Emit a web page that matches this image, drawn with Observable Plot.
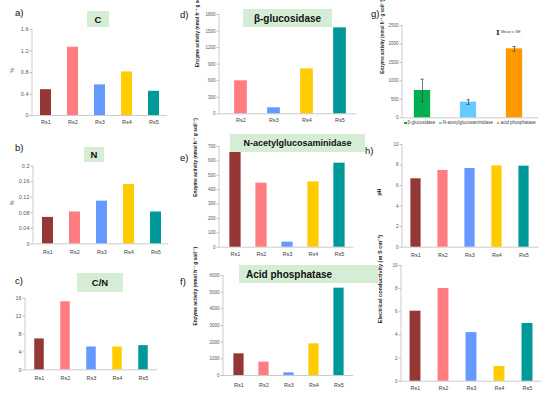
<!DOCTYPE html>
<html><head><meta charset="utf-8">
<script src="https://cdn.jsdelivr.net/npm/d3@7"></script>
<script src="https://cdn.jsdelivr.net/npm/@observablehq/plot@0.6"></script>
<style>
body{margin:0;background:#fff;}
#root{position:relative;width:550px;height:396px;background:#fff;overflow:hidden;font-family:"Liberation Sans",Arial,sans-serif;}
#root svg{position:absolute;left:0;top:0;}
.lab{position:absolute;font-size:9.5px;line-height:10px;color:#111;}
.ttl{position:absolute;background:#d5edd5;font-weight:bold;font-size:9px;color:#111;display:flex;align-items:center;justify-content:center;white-space:nowrap;}
</style></head>
<body><div id="root"></div>
<script>
// ---- data ----
const sites = ["Rs1","Rs2","Rs3","Rs4","Rs5"];
const siteColors = ["#953735","#ff7c80","#6699ff","#ffcc00","#009999"];
const carbon = [0.48,1.27,0.57,0.81,0.45];
const nitrogen = [0.068,0.082,0.110,0.153,0.082];
const cnRatio = [6.9,15.2,5.1,5.1,5.4];
const glucSites = ["Rs2","Rs3","Rs4","Rs5"];
const glucosidase = [598,109,815,1558];
const nag = [660,445,35,454,584];
const acp = [1300,800,160,1900,5240];
const enzymes = ["β-glucosidase","N-acetylglucosaminidase","acid phosphatase"];
const enzymeColors = ["#00b050","#66ccff","#ff9900"];
const enzymeMean = [740,424,1868];
const enzymeSE = [305,65,63];
const ph = [6.66,7.47,7.66,7.92,7.89];
const ec = [6.05,8.01,4.2,1.27,4.99];
// tick labels
const cTicks = [0,0.4,0.8,1.2,1.6];
const nTicks = [0,0.04,0.08,0.12,0.16,0.2];
const cnTicks = [0,4,8,12,16];
const glucTicks = [0,300,600,900,1200,1500,1800];
const nagTicks = [0,100,200,300,400,500,600,700];
const acpTicks = [0,1000,2000,3000,4000,5000,6000];
const gTicks = [0,500,1000,1500,2000,2500];
const tenTicks = [0,2,4,6,8,10];
const enzLabel = "Enzyme activity (nmol h\u207B\u00B9 g soil\u207B\u00B9)";

const root = document.getElementById("root");
const svgNS = "http://www.w3.org/2000/svg";

function leftLine(index, scales, values, dims) {
  const l = document.createElementNS(svgNS, "line");
  l.setAttribute("x1", dims.marginLeft); l.setAttribute("x2", dims.marginLeft);
  l.setAttribute("y1", dims.marginTop); l.setAttribute("y2", dims.height - dims.marginBottom);
  l.setAttribute("stroke", "#bfbfbf"); l.setAttribute("stroke-width", 0.8);
  return l;
}

function panel(o) {
  const n = o.domain.length;
  const x0 = o.c1 - o.step / 2, x1 = o.c1 + (n - 0.5) * o.step;
  const inset = (o.step - o.bw) / 2;
  const data = o.domain.map((k, i) => ({key: k, value: o.values[i], se: o.se ? o.se[i] : 0}));
  const marks = [
    Plot.ruleY([0], {stroke: "#bfbfbf", strokeWidth: 0.8}),
    leftLine,
    Plot.axisY({ticks: o.ticks, tickSize: 2.5, tickPadding: 1.5, fontSize: o.tickFont, fill: "#595959", stroke: "#bfbfbf", label: null, tickFormat: d => String(d)}),
    Plot.barY(data, {x: "key", y: "value", fill: "key", insetLeft: inset, insetRight: inset})
  ];
  if (!o.noX) marks.push(Plot.axisX({tickSize: 0, tickPadding: o.xpad, fontSize: 5.5, fill: "#404040", label: null}));
  if (o.ylabel) marks.push(Plot.text([o.ylabel], {text: d => d, frameAnchor: "left", rotate: -90, dx: o.ldx, dy: o.ldy || 0, fontSize: o.lfont, fontWeight: o.lbold ? "bold" : "normal", fill: "#262626"}));
  if (o.se) {
    const ci = (o.step - 4) / 2;
    marks.push(Plot.ruleX(data, {x: "key", y1: d => d.value - d.se, y2: d => d.value + d.se, stroke: "#404040", strokeWidth: 0.7}));
    marks.push(Plot.tickY(data, {x: "key", y: d => d.value + d.se, stroke: "#404040", strokeWidth: 0.7, insetLeft: ci, insetRight: ci}));
    marks.push(Plot.tickY(data, {x: "key", y: d => d.value - d.se, stroke: "#404040", strokeWidth: 0.7, insetLeft: ci, insetRight: ci}));
  }
  const chart = Plot.plot({
    width: 550, height: 396,
    marginLeft: o.xl, marginRight: 550 - x1, marginTop: o.yt, marginBottom: 396 - o.yb,
    style: {background: "transparent", fontFamily: "Liberation Sans, Arial, sans-serif", overflow: "visible"},
    x: {type: "band", domain: o.domain, range: [x0, x1], padding: 0, axis: null},
    y: {domain: [0, o.max], axis: null},
    color: {domain: o.domain, range: o.colors},
    marks
  });
  root.appendChild(chart);
}

panel({domain: sites, values: carbon, colors: siteColors, c1: 45.5, step: 27, bw: 11, xl: 32, yt: 29, yb: 115, max: 1.6, ticks: cTicks, tickFont: 5.5, xpad: 4.7, ylabel: "%", ldx: -20, lfont: 5, lbold: false});
panel({domain: sites, values: nitrogen, colors: siteColors, c1: 47, step: 27, bw: 11, xl: 33, yt: 165.7, yb: 243.3, max: 0.2, ticks: nTicks, tickFont: 5.5, xpad: 6.5, ylabel: "%", ldx: -21, lfont: 5, lbold: false});
panel({domain: sites, values: cnRatio, colors: siteColors, c1: 38, step: 26.5, bw: 10, xl: 25, yt: 297.7, yb: 369.3, max: 16, ticks: cnTicks, tickFont: 5.5, xpad: 6.5});
panel({domain: glucSites, values: glucosidase, colors: siteColors.slice(1), c1: 240, step: 33.3, bw: 13, xl: 219, yt: 14, yb: 113.3, max: 1800, ticks: glucTicks, tickFont: 4.5, xpad: 4, ylabel: enzLabel, ldx: -22, ldy: 3, lfont: 4.8, lbold: true});
panel({domain: sites, values: nag, colors: siteColors, c1: 233, step: 26.75, bw: 12, xl: 219, yt: 146, yb: 246.7, max: 700, ticks: nagTicks, tickFont: 4.5, xpad: 5.3, ylabel: enzLabel, ldx: -24, lfont: 4.9, lbold: true});
panel({domain: sites, values: acp, colors: siteColors, c1: 237, step: 25.8, bw: 11, xl: 223, yt: 275, yb: 375, max: 6000, ticks: acpTicks, tickFont: 4.5, xpad: 8, ylabel: enzLabel, ldx: -28, lfont: 4.9, lbold: true});
panel({domain: enzymes, values: enzymeMean, se: enzymeSE, colors: enzymeColors, c1: 421.5, step: 46.7, bw: 17, xl: 402, yt: 25, yb: 117.3, max: 2500, ticks: gTicks, tickFont: 4.5, noX: true, ylabel: enzLabel, ldx: -20, ldy: 2, lfont: 4.6, lbold: true});
panel({domain: sites, values: ph, colors: siteColors, c1: 413.5, step: 27.8, bw: 11, xl: 402, yt: 144, yb: 246.7, max: 10, ticks: tenTicks, tickFont: 4.5, xpad: 6.3, ylabel: "pH", ldx: -23, lfont: 5.5, lbold: true});
panel({domain: sites, values: ec, colors: siteColors, c1: 414.5, step: 28.1, bw: 11, xl: 401, yt: 265, yb: 380.7, max: 10, ticks: tenTicks, tickFont: 4.5, xpad: 4.6, ylabel: "Electrical conductivity (m S cm\u207B\u00B9)", ldx: -21, lfont: 5.6, lbold: true});

// panel letters
const letters = [["a)",15,8],["b)",15,143],["c)",15,276],["d)",180,10],["e)",180,153],["f)",180,277],["g)",371,9],["h)",365,146]];
for (const [t, x, y] of letters) {
  const d = document.createElement("div"); d.className = "lab"; d.textContent = t;
  d.style.left = x + "px"; d.style.top = y + "px"; root.appendChild(d);
}
// title boxes
const titles = [["C",87,11,22,16,"center",9.5],["N",84,147,20,15,"center",9.5],["C/N",77,273,46,19,"center",9.5],
  ["β-glucosidase",243,9,89,18,"center",10],["N-acetylglucosaminidase",230,134,135,18,"center",9],["Acid phosphatase",239,265,139,18,"flex-start",10]];
for (const [t, x, y, w, h, j, fs] of titles) {
  const d = document.createElement("div"); d.className = "ttl"; d.textContent = t;
  Object.assign(d.style, {left: x + "px", top: y + "px", width: w + "px", height: h + "px", justifyContent: j, fontSize: fs + "px", paddingLeft: j === "flex-start" ? "7px" : "0", boxSizing: "border-box"});
  root.appendChild(d);
}
// legend for g
const leg = document.createElement("div");
Object.assign(leg.style, {position: "absolute", left: "404px", top: "120px", fontSize: "4.5px", lineHeight: "5px", color: "#404040", whiteSpace: "nowrap", display: "flex", gap: "4px"});
enzymes.forEach((e, i) => {
  const s = document.createElement("span");
  s.innerHTML = `<span style="display:inline-block;width:2.5px;height:2.5px;background:${enzymeColors[i]};margin-right:1px"></span>${e}`;
  leg.appendChild(s);
});
root.appendChild(leg);
const se = document.createElement("div");
Object.assign(se.style, {position: "absolute", left: "496px", top: "28px", fontSize: "4px", lineHeight: "8px", color: "#404040", whiteSpace: "nowrap"});
se.innerHTML = `<span style="font-family:'DejaVu Serif';font-size:8px;font-weight:bold;vertical-align:middle">I</span> <span style="vertical-align:middle">Mean ± SE</span>`;
root.appendChild(se);
</script>
</body></html>
